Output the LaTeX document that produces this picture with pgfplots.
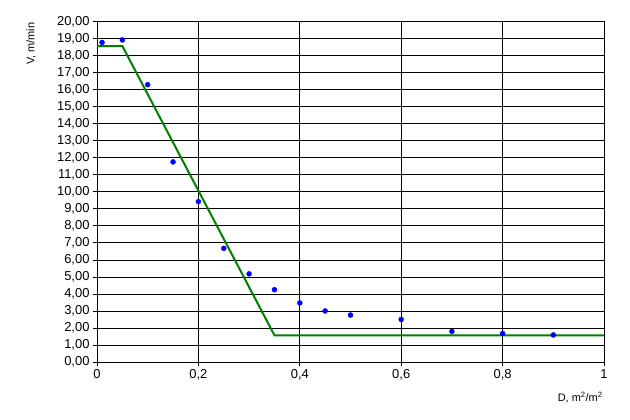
\documentclass[border=0pt]{standalone}
\usepackage{fontspec}
\setmainfont{Liberation Sans}
\usepackage{pgfplots}
\pgfplotsset{compat=1.18}
\definecolor{ptblue}{RGB}{0,0,255}
\definecolor{fitgreen}{RGB}{0,128,0}
\newcommand{\tickfont}{\fontsize{13}{15}\selectfont}
\begin{document}
\begin{tikzpicture}
\path[use as bounding box] (0,0) rectangle (630bp,420bp);
\begin{axis}[
    at={(97bp,58bp)}, anchor=south west,
    scale only axis, width=507bp, height=340.3bp,
    xmin=0, xmax=1, ymin=0, ymax=20,
    xtick={0,0.2,0.4,0.6,0.8,1}, ytick={0,1,...,20},
    grid=major, major grid style={black, line width=0.8bp},
    axis line style={black, line width=0.8bp},
    tick align=outside, tick pos=left,
    major tick length=4bp, tick style={black, line width=0.8bp},
    yticklabel={\tickfont\pgfmathprintnumber[fixed, fixed zerofill, precision=2, use comma, assume math mode=true]{\tick}},
    xticklabel={\tickfont\pgfmathprintnumber[fixed, precision=1, use comma, assume math mode=true]{\tick}},
    ylabel={V, m/min},
    ylabel style={at={(axis description cs:-0.13,0.935)}, anchor=center, font=\fontsize{11}{13}\selectfont},
    xlabel={D, m\textsuperscript{2}/m\textsuperscript{2}},
    xlabel style={at={(axis description cs:0.953,-0.103)}, anchor=center, font=\fontsize{11}{13}\selectfont},
]
\addplot[fitgreen, line width=2bp] coordinates {
    (0,18.57) (0.05,18.57) (0.35,1.57) (1,1.57)
};
\addplot[only marks, mark=*, mark size=2.5bp, ptblue, mark options={draw=ptblue, fill=ptblue}] coordinates {
    (0.01,18.78) (0.05,18.93) (0.1,16.3) (0.15,11.76) (0.2,9.43)
    (0.25,6.68) (0.3,5.18) (0.35,4.25) (0.4,3.47) (0.45,3.0)
    (0.5,2.76) (0.6,2.5) (0.7,1.8) (0.8,1.68) (0.9,1.59)
};
\end{axis}
\end{tikzpicture}
\end{document}
